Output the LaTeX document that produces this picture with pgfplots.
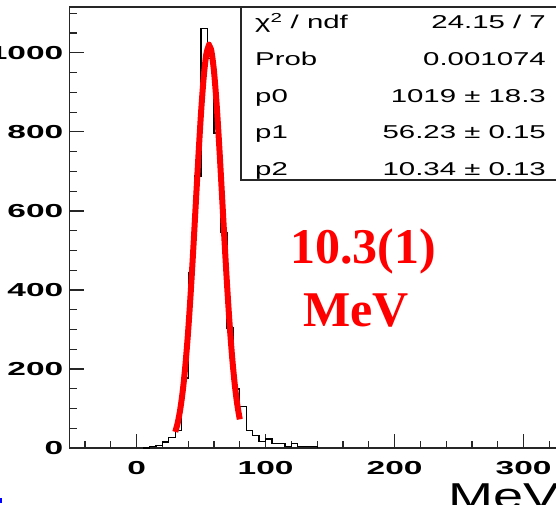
\documentclass[border=0pt]{standalone}
\usepackage{fontspec}
\usepackage{pgfplots}
\usepackage{pgfplotstable}
\pgfplotsset{compat=1.18}
\setmainfont{Liberation Sans}
\newfontfamily\tickfont{Liberation Sans}[FakeStretch=1.78]
\newfontfamily\statfont{Liberation Sans}[FakeStretch=1.58]
\newfontfamily\titlefont{Liberation Sans}[FakeStretch=1.5]
\newfontfamily\redfont{Liberation Serif}

\pgfplotstableread{
x y
5 0
10 3
15 7
20 15
25 26
30 45
35 177
40 443
45 688
50 1061
55 985
60 797
65 545
70 304
75 149
80 105
85 45
90 31
95 17
100 23
105 12
110 12
115 4
120 12
125 4
130 3
135 3
140 0
}\histdata

\pgfplotstableread{
x y
30 40.8
32 65.4
34 101.1
36 150.3
38 215.4
40 297.3
42 395.3
44 506.3
46 624.7
48 742.3
50 849.9
52 937.2
54 995.6
56 1018.7
56.23 1019
58 1004.2
60 953.5
62 872.1
64 768.3
66 652.1
68 533.1
70 419.8
72 318.5
74 232.7
76 163.8
78 111.1
80 72.5
}\fitdata

\begin{document}
\begin{tikzpicture}
\path[use as bounding box] (0pt,0pt) rectangle (556pt,504pt);
\clip (0pt,0pt) rectangle (556pt,504pt);
\begin{axis}[
  at={(69.5pt,56pt)}, anchor=south west, scale only axis,
  width=518.6pt, height=441pt,
  xmin=-52, xmax=350, ymin=0, ymax=1116,
  axis line style={line width=1.2pt, black!85},
  tick align=inside, tick pos=left,
  xtick={0,100,200,300}, ytick={0,200,...,1000},
  minor xtick={-40,-20,...,340}, minor ytick={50,100,...,1100},
  major tick length=14pt, minor tick length=7.5pt,
  every tick/.style={black!85, line width=1.2pt},
  tick label style={font=\tickfont\bfseries\fontsize{18.8}{20}\selectfont},
  /pgf/number format/assume math mode=true,
  /pgf/number format/set thousands separator={},
  scaled y ticks=false,
  xticklabel style={inner sep=0pt, yshift=-13pt},
  yticklabel style={inner sep=0pt, xshift=-6pt},
]
\addplot[const plot mark left, black, line width=1.3pt] table {\histdata};
\addplot[red, line width=6pt, smooth, line join=round] table {\fitdata};
\end{axis}
% stats box
\fill[white] (241pt,324pt) rectangle (600pt,497pt);
\draw[line width=1.4pt, black!85] (241pt,324pt) rectangle (600pt,497pt);
\begin{scope}[every node/.style={inner sep=0pt, font=\statfont\fontsize{18.6}{20}\selectfont}]
\node[anchor=base west] at (255pt,475.5pt) {χ\textsuperscript{2} / ndf};
\node[anchor=base east] at (546pt,475.5pt) {24.15 / 7};
\node[anchor=base west] at (255pt,438pt) {Prob};
\node[anchor=base east] at (546pt,438pt) {0.001074};
\node[anchor=base west] at (255pt,401.5pt) {p0};
\node[anchor=base east] at (546pt,401.5pt) {1019 ± 18.3};
\node[anchor=base west] at (255pt,365pt) {p1};
\node[anchor=base east] at (546pt,365pt) {56.23 ± 0.15};
\node[anchor=base west] at (255pt,328.5pt) {p2};
\node[anchor=base east] at (546pt,328.5pt) {10.34 ± 0.13};
\end{scope}
% red annotation
\node[anchor=base west, inner sep=0pt, text=red, font=\redfont\bfseries\fontsize{50}{52}\selectfont] at (290pt,240.7pt) {10.3(1)};
\node[anchor=base west, inner sep=0pt, text=red, font=\redfont\bfseries\fontsize{50}{52}\selectfont] at (303.3pt,177.3pt) {MeV};
% axis title
\node[anchor=base west, inner sep=0pt, font=\titlefont\fontsize{36}{38}\selectfont] at (448pt,-4pt) {MeV};
% small blue mark at lower left
\fill[blue] (0pt,1pt) rectangle (1.7pt,6pt);
\end{tikzpicture}
\end{document}
